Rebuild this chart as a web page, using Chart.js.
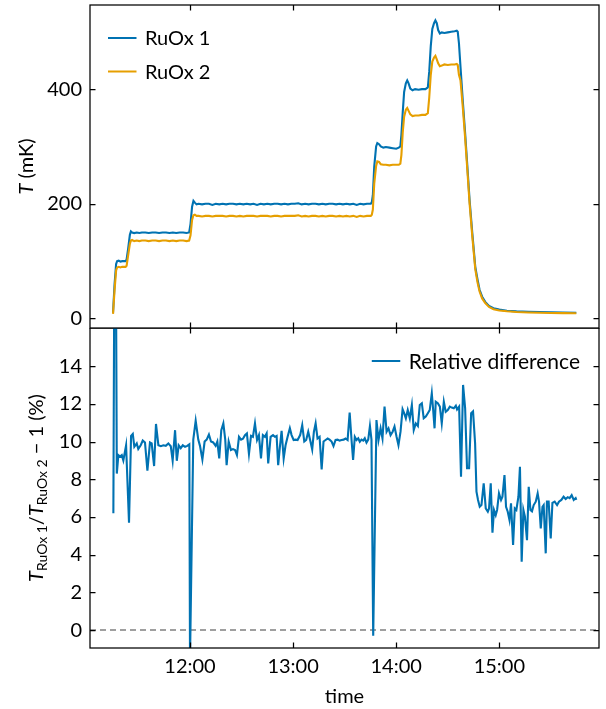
<!DOCTYPE html>
<html>
<head>
<meta charset="utf-8">
<script src="https://cdn.jsdelivr.net/npm/chart.js@4.4.1/dist/chart.umd.min.js"></script>
<style>
  html, body { margin: 0; padding: 0; background: #fff; }
  #wrap { position: relative; width: 606px; height: 709px; }
  #wrap canvas { position: absolute; left: 0; }
</style>
</head>
<body>
<div id="wrap">
  <canvas id="chartTemp" width="606" height="330" style="top:0"></canvas>
  <canvas id="chartDiff" width="606" height="381" style="top:328px"></canvas>
</div>
<script>
// --- Data (time in minutes after 11:00) ---
const tTemp = [
  15.2, 16.1, 17.0, 17.6, 18.5, 19.5, 20.5, 21.5, 22.5, 23.1,
  24.0, 25.0, 25.6, 26.3, 27.5, 29.0, 30.5, 32.0, 34.0, 36.0,
  38.0, 40.0, 42.0, 44.0, 46.0, 48.0, 50.0, 52.0, 54.0, 56.0,
  58.0, 59.5, 60.3, 61.2, 62.0, 62.8, 63.8, 65.0, 67.0, 69.0,
  71.0, 73.0, 75.0, 77.0, 79.0, 81.0, 83.0, 85.0, 87.0, 89.0,
  91.0, 93.0, 95.0, 97.0, 99.0, 101.0, 103.0, 105.0, 107.0, 109.0,
  111.0, 113.0, 115.0, 117.0, 119.0, 121.0, 123.0, 125.0, 127.0, 129.0,
  131.0, 133.0, 135.0, 137.0, 139.0, 141.0, 143.0, 145.0, 147.0, 149.0,
  151.0, 153.0, 155.0, 157.0, 159.0, 161.0, 163.0, 165.2, 165.8, 166.4,
  167.2, 168.3, 169.0, 170.0, 171.0, 172.5, 174.0, 176.0, 178.0, 180.0,
  181.5, 182.4, 183.0, 183.8, 184.6, 185.6, 186.4, 187.2, 188.2, 189.5,
  191.0, 193.0, 195.0, 197.0, 198.4, 199.2, 200.1, 201.0, 202.0, 202.8,
  203.6, 204.4, 205.4, 206.5, 208.0, 210.0, 212.0, 214.0, 215.2, 215.8,
  216.5, 217.4, 218.7, 220.1, 221.4, 222.7, 224.3, 226.0, 227.3, 228.5,
  230.0, 231.8, 234.0, 236.6, 240.0, 244.4, 250.0, 257.0, 263.5, 270.0,
  277.0, 284.8
];
const tRuOx1 = [
  10, 60, 95, 100, 101, 99, 100, 100, 100, 103,
  122, 146, 152, 150, 149, 150, 149, 150, 150, 149,
  150, 150, 149, 150, 150, 149, 150, 149, 150, 150,
  149, 150, 165, 195, 205, 202, 199, 200, 199, 200,
  200, 198, 200, 199, 200, 199, 200, 200, 199, 200,
  199, 200, 199, 200, 198, 200, 199, 200, 199, 200,
  200, 199, 200, 199, 200, 200, 201, 199, 200, 199,
  200, 200, 199, 200, 199, 200, 200, 199, 200, 199,
  200, 199, 200, 198, 200, 199, 200, 200, 203, 215,
  265, 300, 306, 304, 300, 298, 299, 298, 297, 296,
  298, 300, 320, 360, 395, 410, 415, 410, 401, 398,
  400, 399, 400, 400, 403, 430, 475, 505, 515, 520,
  515, 503, 497, 499, 498, 499, 500, 501, 502, 500,
  480, 439, 381, 323, 265, 206, 148, 90, 68, 50,
  38, 29, 22, 18, 15.5, 13.6, 12.4, 11.8, 11.3, 10.8,
  10.4, 10.1
];
const tRuOx2 = [
  8, 50, 84, 89, 90, 89, 90, 90, 90, 92,
  110, 130, 136, 137, 135, 136, 135, 136, 136, 135,
  136, 136, 135, 136, 136, 135, 136, 135, 136, 136,
  135, 136, 145, 172, 180, 181, 179, 179, 178, 179,
  179, 178, 179, 179, 179, 178, 179, 179, 178, 179,
  178, 179, 179, 179, 178, 179, 179, 179, 178, 179,
  179, 178, 179, 179, 179, 179, 180, 178, 179, 178,
  179, 179, 178, 179, 178, 179, 179, 178, 179, 178,
  179, 178, 179, 177, 179, 178, 179, 179, 181, 190,
  235, 266, 274, 273, 269, 268, 268, 267, 268, 268,
  268, 270, 285, 325, 352, 364, 367, 362, 356, 353,
  354, 354, 355, 355, 358, 385, 425, 448, 455, 458,
  452, 445, 440, 441, 443, 442, 443, 443, 444, 442,
  425, 415, 370, 315, 258, 200, 142, 86, 63, 47,
  35, 27, 20, 16, 14, 12.5, 11.3, 10.5, 10, 9.6,
  9.3, 9.0
];

const tDiff = [
  15.4, 16.4, 17.4, 18.3, 19.3, 20.3, 21.2, 22.8, 24.5, 25.7,
  26.7, 27.6, 29.0, 29.9, 31.3, 32.5, 33.8, 35.2, 36.7, 37.7,
  39.1, 40.2, 41.6, 43.0, 44.5, 45.9, 47.4, 48.8, 49.9, 51.3,
  52.3, 53.4, 54.6, 55.8, 57.1, 58.4, 59.6, 60.0, 61.9, 63.3,
  64.8, 65.8, 67.2, 68.5, 69.7, 71.0, 72.2, 73.5, 74.9, 75.9,
  77.0, 78.2, 79.4, 80.5, 81.3, 82.5, 83.8, 85.0, 86.2, 87.3,
  88.5, 89.7, 90.8, 92.0, 93.1, 94.3, 95.5, 96.6, 97.8, 99.0,
  100.1, 101.3, 102.4, 103.6, 104.6, 105.5, 106.9, 108.3, 109.4, 110.4,
  111.3, 112.3, 113.3, 114.5, 115.6, 116.8, 118.1, 119.1, 120.3, 121.5,
  122.6, 124.1, 125.3, 126.5, 127.6, 128.8, 129.9, 131.1, 132.1, 133.1,
  134.2, 135.4, 136.6, 137.7, 138.9, 140.1, 141.2, 142.4, 143.5, 144.7,
  145.9, 147.0, 148.2, 149.4, 150.5, 151.7, 152.9, 154.0, 154.9, 155.9,
  156.9, 157.9, 158.8, 159.8, 160.8, 161.7, 162.7, 163.7, 164.7, 165.6,
  166.6, 168.5, 169.7, 170.9, 172.0, 173.2, 174.4, 175.5, 176.7, 177.9,
  179.0, 180.2, 181.3, 182.5, 183.7, 184.6, 185.6, 186.7, 187.9, 189.1,
  190.2, 191.4, 192.6, 193.7, 194.9, 196.0, 197.2, 198.4, 199.5, 200.7,
  201.5, 202.3, 203.0, 204.2, 205.4, 206.5, 207.7, 208.8, 210.0, 211.2,
  212.3, 213.5, 214.7, 215.4, 216.6, 217.7, 218.9, 220.1, 221.2, 222.4,
  223.6, 224.7, 225.9, 226.7, 227.6, 228.6, 229.6, 230.9, 232.1, 233.3,
  234.0, 235.0, 236.0, 236.9, 237.9, 238.7, 239.8, 241.0, 241.8, 243.0,
  243.9, 244.9, 245.9, 246.8, 248.0, 249.0, 249.9, 251.1, 252.0, 253.0,
  254.0, 254.9, 256.1, 257.1, 258.1, 259.0, 260.0, 261.2, 262.3, 263.1,
  264.1, 265.1, 265.8, 267.0, 267.7, 268.7, 269.9, 270.9, 272.2, 273.6,
  274.7, 276.1, 277.4, 278.6, 279.8, 280.9, 282.1, 283.3, 284.4, 284.8
];
const relDiff = [
  6.2, 30, 8.3, 9.28, 9.2, 9.28, 9.0, 9.8, 5.7, 10.3,
  10.4, 9.72, 9.9, 9.6, 9.8, 10.05, 9.95, 8.45, 9.95, 9.9,
  8.7, 10.93, 9.8, 9.75, 9.8, 9.77, 9.9, 9.75, 8.98, 10.6,
  8.98, 9.8, 9.65, 9.8, 9.72, 9.77, 9.85, -1.5, 10.1, 11.1,
  10.1, 9.77, 9.05, 10.0, 10.1, 10.37, 10.0, 9.95, 9.77, 10.0,
  9.1, 10.6, 10.96, 10.1, 8.75, 10.0, 9.55, 9.6, 9.55, 9.28,
  10.25, 10.1, 10.15, 10.34, 10.43, 9.34, 10.3, 10.25, 10.96, 10.08,
  10.34, 9.1, 10.34, 10.25, 10.43, 8.84, 10.25, 10.34, 10.25, 10.3,
  8.75, 9.72, 10.57, 9.1, 9.8, 10.25, 10.7, 10.34, 10.08, 10.1,
  10.08, 10.34, 10.87, 10.0, 10.08, 10.52, 10.08, 9.58, 10.52, 10.96,
  10.16, 10.25, 8.52, 10.0, 10.08, 10.16, 10.1, 10.0, 9.76, 10.08,
  10.1, 10.05, 10.08, 10.1, 10.16, 10.08, 11.53, 10.08, 9.02, 10.25,
  10.08, 10.17, 9.99, 10.1, 10.05, 10.17, 9.94, 10.1, 10.82, 10.1,
  -0.3, 11.14, 10.08, 10.7, 10.17, 11.85, 10.52, 10.7, 10.34, 10.52,
  10.79, 10.25, 9.81, 10.52, 11.71, 11.5, 11.23, 11.67, 11.23, 11.94,
  10.61, 10.96, 10.82, 11.94, 12.03, 11.23, 11.32, 11.5, 11.67, 12.56,
  11.67, 10.7, 12.11, 12.03, 11.85, 10.96, 12.11, 11.58, 11.67, 11.85,
  11.8, 11.76, 11.9, 11.7, 11.85, 8.13, 13.0, 11.76, 8.58, 8.58,
  11.5, 11.6, 9.9, 7.34, 6.9, 6.54, 6.63, 7.78, 6.45, 6.28,
  6.45, 7.78, 5.16, 6.37, 6.1, 6.37, 7.25, 6.9, 7.07, 8.22,
  6.54, 6.28, 5.84, 6.72, 4.51, 6.45, 6.37, 7.07, 8.66, 3.62,
  6.37, 6.01, 4.77, 7.6, 6.37, 6.3, 6.63, 6.81, 7.25, 6.81,
  5.39, 6.54, 6.63, 4.07, 6.81, 6.81, 4.86, 6.75, 6.81, 6.63,
  6.81, 6.9, 7.07, 6.95, 7.05, 7.0, 7.16, 6.9, 7.0, 6.9
];

const TIME_TICKS = [60, 120, 180, 240];
const TIME_LABELS = ['12:00', '13:00', '14:00', '15:00'];
const TEMP_TICKS = [0, 200, 400];
const DIFF_TICKS = [0, 2, 4, 6, 8, 10, 12, 14];
const X_MIN = 1.8, X_MAX = 298;

const BLUE = '#0072b2';
const ORANGE = '#e69f00';
const FONT = 'Lato';

Chart.defaults.font.family = FONT;
Chart.defaults.font.size = 20;
Chart.defaults.color = '#000';

const toXY = (xs, ys) => xs.map((x, i) => ({ x: x, y: ys[i] }));

// frame + inward ticks on all four sides
const framePlugin = {
    id: 'frame',
    afterDraw(chart, args, opts) {
        const { ctx, chartArea: a, scales } = chart;
        const L = 5.5;
        ctx.save();
        ctx.strokeStyle = '#000';
        ctx.lineWidth = 1.25;
        ctx.beginPath();
        opts.yTicks.forEach(v => {
            const y = Math.round(scales.y.getPixelForValue(v)) + 0.5;
            ctx.moveTo(a.left, y); ctx.lineTo(a.left + L, y);
            ctx.moveTo(a.right, y); ctx.lineTo(a.right - L, y);
        });
        TIME_TICKS.forEach(v => {
            const x = Math.round(scales.x.getPixelForValue(v)) + 0.5;
            ctx.moveTo(x, a.top); ctx.lineTo(x, a.top + L);
            ctx.moveTo(x, a.bottom); ctx.lineTo(x, a.bottom - L);
        });
        ctx.stroke();
        ctx.strokeRect(a.left, a.top, a.right - a.left, a.bottom - a.top);
        ctx.restore();
    }
};

// rotated y-axis title made of styled pieces
const yTitlePlugin = {
    id: 'ytitle',
    afterDraw(chart, args, opts) {
        const { ctx, chartArea: a } = chart;
        ctx.save();
        ctx.fillStyle = '#000';
        ctx.textBaseline = 'alphabetic';
        let total = 0;
        opts.parts.forEach(p => { ctx.font = p.font; total += ctx.measureText(p.text).width; });
        ctx.translate(opts.x, (a.top + a.bottom) / 2);
        ctx.rotate(-Math.PI / 2);
        let x = -total / 2;
        opts.parts.forEach(p => {
            ctx.font = p.font;
            ctx.fillText(p.text, x, p.dy || 0);
            x += ctx.measureText(p.text).width;
        });
        ctx.restore();
    }
};

// legend drawn inside the axes
const legendPlugin = {
    id: 'innerLegend',
    afterDraw(chart, args, opts) {
        const { ctx, chartArea: a } = chart;
        ctx.save();
        ctx.font = opts.fontSize + 'px ' + FONT;
        ctx.textBaseline = 'middle';
        ctx.fillStyle = '#000';
        opts.items.forEach((idx, row) => {
            const ds = chart.data.datasets[idx];
            const y = a.top + opts.top + row * opts.rowGap;
            let tx;
            if (opts.align === 'right') {
                tx = a.right - opts.inset - ctx.measureText(ds.label).width;
            } else {
                tx = a.left + opts.inset + 38;
            }
            ctx.strokeStyle = ds.borderColor;
            ctx.lineWidth = 2;
            ctx.beginPath();
            ctx.moveTo(tx - 37, y - 1);
            ctx.lineTo(tx - 8.5, y - 1);
            ctx.stroke();
            ctx.fillText(ds.label, tx, y);
        });
        ctx.restore();
    }
};

const xScaleBase = {
    type: 'linear',
    min: X_MIN,
    max: X_MAX,
    grid: { display: false, drawTicks: false },
    border: { display: false },
    afterBuildTicks: s => { s.ticks = TIME_TICKS.map(v => ({ value: v })); },
    afterFit: s => { s.paddingLeft = 0; s.paddingRight = 0; }
};

function yScale(min, max, ticks) {
    return {
        type: 'linear',
        min: min,
        max: max,
        grid: { display: false, drawTicks: false },
        border: { display: false },
        ticks: { padding: 8 },
        afterBuildTicks: s => { s.ticks = ticks.map(v => ({ value: v })); },
        afterFit: s => { s.width = 90; s.paddingTop = 0; s.paddingBottom = 0; }
    };
}

new Chart(document.getElementById('chartTemp'), {
    type: 'line',
    data: {
        datasets: [
            { label: 'RuOx 1', data: toXY(tTemp, tRuOx1), borderColor: BLUE, borderWidth: 2.1, pointRadius: 0, order: 1 },
            { label: 'RuOx 2', data: toXY(tTemp, tRuOx2), borderColor: ORANGE, borderWidth: 2.1, pointRadius: 0, order: 0 }
        ]
    },
    options: {
        responsive: false,
        devicePixelRatio: 1,
        animation: false,
        events: [],
        layout: { padding: { left: 0, right: 7, top: 5, bottom: 2 } },
        scales: {
            x: { ...xScaleBase, display: false },
            y: yScale(-16.6, 546.7, TEMP_TICKS)
        },
        plugins: {
            legend: { display: false },
            tooltip: { enabled: false },
            frame: { yTicks: TEMP_TICKS },
            ytitle: {
                x: 33,
                parts: [
                    { text: 'T', font: 'italic 20px ' + FONT },
                    { text: ' (mK)', font: '20px ' + FONT }
                ]
            },
            innerLegend: { items: [0, 1], top: 34, rowGap: 33.5, inset: 17, align: 'left', fontSize: 20 }
        }
    },
    plugins: [framePlugin, yTitlePlugin, legendPlugin]
});

new Chart(document.getElementById('chartDiff'), {
    type: 'line',
    data: {
        datasets: [
            { label: 'Relative difference', data: toXY(tDiff, relDiff), borderColor: BLUE, borderWidth: 2.1, pointRadius: 0, order: 0 },
            { label: 'zero', data: [{ x: X_MIN, y: 0 }, { x: X_MAX, y: 0 }], borderColor: '#808080', borderWidth: 1.5, borderDash: [6, 4], pointRadius: 0, order: 1 }
        ]
    },
    options: {
        responsive: false,
        devicePixelRatio: 1,
        animation: false,
        events: [],
        layout: { padding: { left: 0, right: 7, top: 0, bottom: 0 } },
        scales: {
            x: {
                ...xScaleBase,
                ticks: {
                    padding: 7,
                    maxRotation: 0,
                    autoSkip: false,
                    callback: v => TIME_LABELS[TIME_TICKS.indexOf(v)]
                },
                title: { display: true, text: 'time', padding: { top: 0, bottom: 0 } },
                afterFit: s => { s.height = 61; s.paddingLeft = 0; s.paddingRight = 0; }
            },
            y: yScale(-0.95, 16.02, DIFF_TICKS)
        },
        plugins: {
            legend: { display: false },
            tooltip: { enabled: false },
            frame: { yTicks: DIFF_TICKS },
            ytitle: {
                x: 43,
                parts: [
                    { text: 'T', font: 'italic 20px ' + FONT },
                    { text: 'RuOx 1', font: '14px ' + FONT, dy: 4 },
                    { text: '/', font: '20px ' + FONT },
                    { text: 'T', font: 'italic 20px ' + FONT },
                    { text: 'RuOx 2', font: '14px ' + FONT, dy: 4 },
                    { text: ' \u2212 1 (%)', font: '20px ' + FONT }
                ]
            },
            innerLegend: { items: [0], top: 34, rowGap: 0, inset: 19, align: 'right', fontSize: 21 }
        }
    },
    plugins: [framePlugin, yTitlePlugin, legendPlugin]
});
</script>
</body>
</html>
